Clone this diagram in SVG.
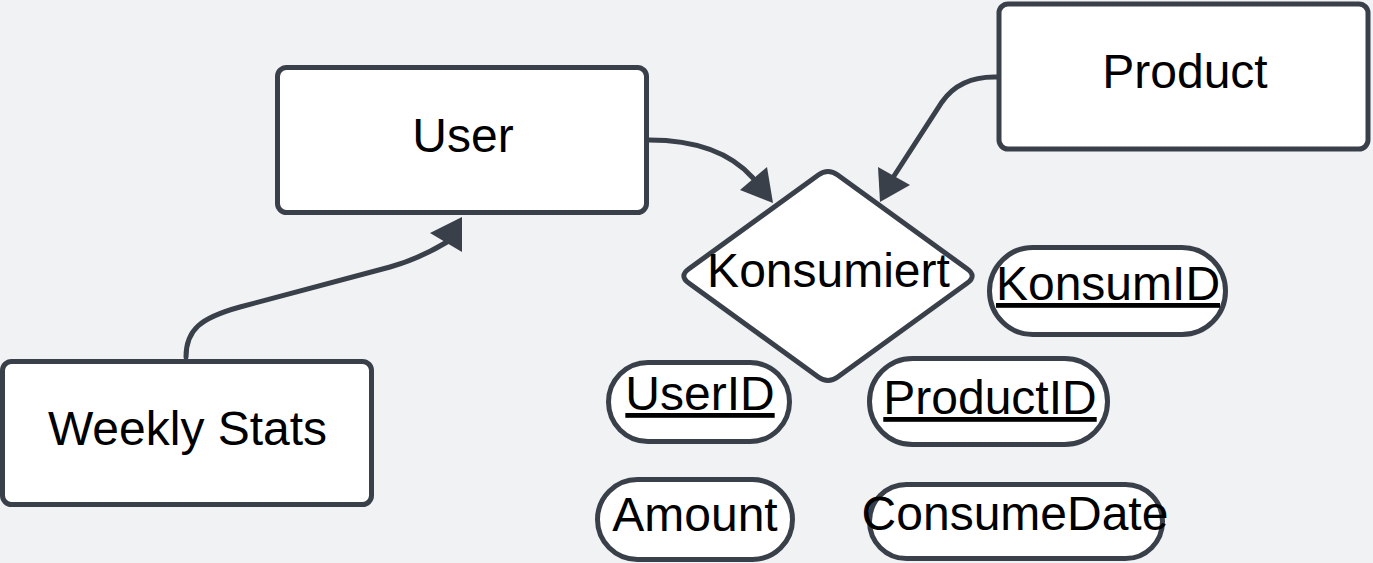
<svg xmlns="http://www.w3.org/2000/svg" width="1373" height="563" viewBox="0 0 1373 563">
  <style>
    .shape { fill: #ffffff; stroke: #3a4049; stroke-width: 5; }
    .lbl { font-family: "Liberation Sans", Arial, sans-serif; font-size: 48px; fill: #000000; text-anchor: middle; }
    .key { text-decoration: underline; }
    .conn { fill: none; stroke: #3a4049; stroke-width: 5; stroke-linecap: round; }
    .head { fill: #3a4049; stroke: none; }
  </style>
  <rect x="0" y="0" width="1373" height="563" fill="#f1f2f4"/>

  <g id="connectors">
    <path class="conn" d="M649,140 C695,140 730,152 753,178"/>
    <polygon class="head" points="773,203 740,190 767,167"/>
    <path class="conn" d="M997,77 Q960,76 942,102 L894,176"/>
    <polygon class="head" points="880,202 878,167 910,185"/>
    <path class="conn" d="M186,357 C186,330 200,318 240,307 L390,267 C415,260 432,251 447,242"/>
    <polygon class="head" points="462,217 430,233 462,252"/>
  </g>

  <g id="user">
    <rect class="shape" x="277.5" y="67.5" width="369" height="145" rx="9"/>
    <text class="lbl" x="463" y="152">User</text>
  </g>

  <g id="product">
    <rect class="shape" x="999" y="4" width="369" height="145" rx="9"/>
    <text class="lbl" x="1185" y="88">Product</text>
  </g>

  <g id="weekly-stats">
    <rect class="shape" x="2.5" y="361.5" width="369" height="143" rx="9"/>
    <text class="lbl" x="187.5" y="445">Weekly Stats</text>
  </g>

  <g id="konsumiert">
    <path class="shape" d="M837.7,175 L967.3,269 Q977,276 967.3,283 L837.7,377 Q828,384 818.3,377 L688.7,283 Q679,276 688.7,269 L818.3,175 Q828,168 837.7,175 Z"/>
    <text class="lbl" x="828.5" y="287">Konsumiert</text>
  </g>

  <g id="konsumid">
    <rect class="shape" x="989.5" y="247.5" width="236" height="87" rx="43.5"/>
    <text class="lbl key" x="1108" y="300">KonsumID</text>
  </g>

  <g id="userid">
    <rect class="shape" x="608.5" y="362.5" width="181" height="79" rx="39.5"/>
    <text class="lbl key" x="700" y="410">UserID</text>
  </g>

  <g id="productid">
    <rect class="shape" x="869.5" y="358.5" width="238" height="86" rx="43"/>
    <text class="lbl key" x="990" y="414">ProductID</text>
  </g>

  <g id="amount">
    <rect class="shape" x="597.5" y="479.5" width="195" height="80" rx="40"/>
    <text class="lbl" x="695" y="531">Amount</text>
  </g>

  <g id="consumedate">
    <rect class="shape" x="869.5" y="484.5" width="293" height="74" rx="37"/>
    <text class="lbl" x="1015" y="530">ConsumeDate</text>
  </g>
</svg>
